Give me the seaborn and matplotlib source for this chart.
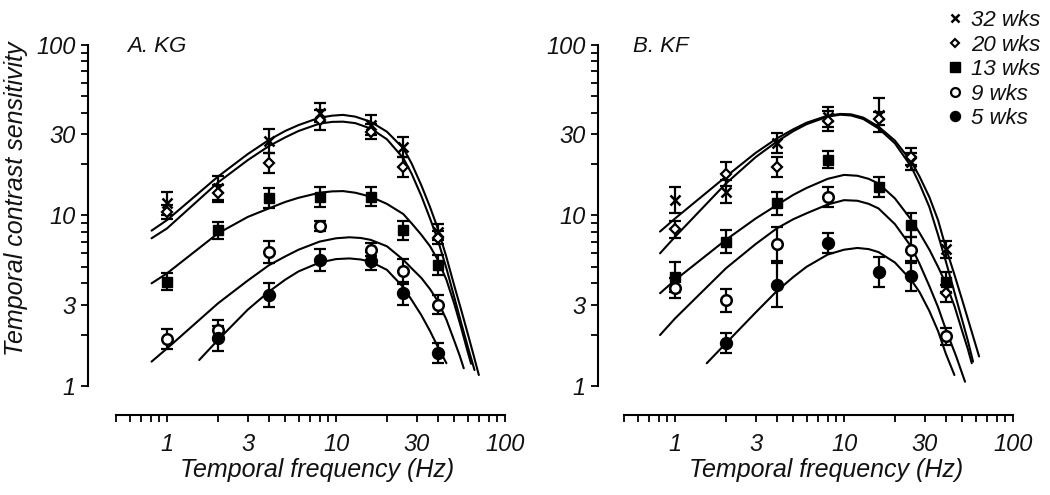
import numpy as np
import pandas as pd
import matplotlib
matplotlib.use("Agg")
import matplotlib.pyplot as plt
from matplotlib.lines import Line2D
from matplotlib.ticker import FixedLocator, FixedFormatter, NullLocator
import seaborn as sns

# ---------------- data ----------------
freqs = [1, 2, 4, 8, 16, 25, 40]
ages = ["32 wks", "20 wks", "13 wks", "9 wks", "5 wks"]
nan = np.nan

# Panel A (KG) mean sensitivities
kg_32 = [11.8, 14.5, 27.4, 40.0, 34.0, 25.3, 8.0]
kg_20 = [10.5, 13.5, 20.2, 36.5, 31.0, 19.3, 7.4]
kg_13 = [4.1, 8.2, 12.6, 12.9, 12.9, 8.2, 5.1]
kg_9 = [1.88, 2.13, 6.1, 8.7, 6.3, 4.7, 3.0]
kg_5 = [nan, 1.9, 3.42, 5.5, 5.4, 3.5, 1.56]
# error half-widths (log10 units)
kg_e32 = [0.068, 0.068, 0.070, 0.055, 0.059, 0.059, 0.049]
kg_e20 = [0.039, 0.049, 0.059, 0.059, 0.043, 0.059, 0.039]
kg_e13 = [0.049, 0.049, 0.059, 0.059, 0.055, 0.055, 0.059]
kg_e9 = [0.059, 0.059, 0.063, 0.029, 0.039, 0.072, 0.055]
kg_e5 = [0.0, 0.072, 0.072, 0.063, 0.053, 0.068, 0.059]

# Panel B (KF)
kf_32 = [12.3, 13.8, 26.6, 38.0, 38.9, 20.7, 6.33]
kf_20 = [8.3, 17.5, 19.3, 36.0, 37.0, 22.1, 3.5]
kf_13 = [4.38, 7.03, 11.8, 21.2, 14.7, 8.79, 4.09]
kf_9 = [3.74, 3.19, 6.8, 12.9, nan, 6.27, 1.96]
kf_5 = [nan, 1.78, 3.91, 6.93, 4.68, 4.42, nan]
kf_e32 = [0.078, 0.068, 0.059, 0.059, 0.098, 0.049, 0.049]
kf_e20 = [0.049, 0.068, 0.059, 0.059, 0.039, 0.049, 0.049]
kf_e13 = [0.088, 0.068, 0.068, 0.049, 0.059, 0.068, 0.059]
kf_e9 = [0.059, 0.068, 0.100, 0.059, 0.0, 0.078, 0.049]
kf_e5 = [0.0, 0.059, 0.127, 0.059, 0.088, 0.088, 0.0]

# Fitted curves
kg_c32_f = [0.81, 1, 2, 3, 4, 5, 6, 8, 9.5, 11, 13, 16, 20, 25, 28, 32, 36, 40, 45, 50, 55, 60, 65, 70]
kg_c32_v = [8.15, 9.4, 16.9, 22.9, 27.7, 31.3, 33.9, 37.5, 38.5, 38.9, 38.0, 35.5, 31.0, 24.8, 20.2,
            15.0, 11.2, 8.4, 5.7, 3.9, 2.8, 2.05, 1.53, 1.16]
kg_c20_f = [0.81, 1, 2, 3, 4, 5, 6, 8, 9.5, 11, 13, 16, 20, 25, 28, 32, 36, 40, 45, 50, 55, 60, 66]
kg_c20_v = [7.35, 8.4, 15.6, 21.1, 25.5, 28.7, 31.3, 34.6, 35.4, 35.5, 34.8, 32.4, 28.0, 21.7, 17.6,
            13.0, 9.6, 7.2, 4.9, 3.34, 2.35, 1.72, 1.24]
kg_c13_f = [0.81, 1, 2, 3, 4, 5, 6, 8, 9.5, 11, 13, 16, 20, 25, 28, 32, 36, 40, 45, 50, 55, 60, 63]
kg_c13_v = [4.0, 4.58, 7.85, 9.8, 11.0, 12.0, 12.7, 13.6, 13.85, 13.9, 13.6, 12.9, 11.7, 10.2, 9.0,
            7.7, 6.6, 5.5, 4.2, 3.05, 2.2, 1.6, 1.35]
kg_c9_f = [0.81, 1, 2, 3, 4, 5, 6, 8, 10, 12, 14, 16, 20, 25, 28, 32, 36, 40, 45, 50, 54, 57]
kg_c9_v = [1.39, 1.66, 3.05, 4.15, 5.1, 5.75, 6.3, 7.03, 7.35, 7.45, 7.38, 7.2, 6.6, 5.5, 4.9,
           4.3, 3.7, 3.15, 2.45, 1.85, 1.5, 1.27]
kg_c5_f = [1.55, 2, 3, 4, 5, 6, 8, 10, 12, 14, 16, 20, 25, 28, 32, 36, 40, 45]
kg_c5_v = [1.42, 1.86, 2.8, 3.57, 4.2, 4.7, 5.3, 5.55, 5.6, 5.52, 5.36, 4.8, 3.8, 3.2, 2.6, 2.1, 1.70, 1.36]

kf_c32_f = [0.815, 1, 2, 3, 4, 5, 6, 8, 9.5, 11, 13, 16, 20, 25, 28, 32, 36, 40, 45, 50, 56, 63]
kf_c32_v = [8.05, 9.6, 16.9, 23.3, 28.3, 32.0, 35.0, 38.5, 39.4, 39.2, 37.5, 33.2, 27.5, 20.7, 16.9,
            12.8, 9.4, 6.5, 4.5, 3.2, 2.2, 1.49]
kf_c20_f = [0.815, 1, 2, 3, 4, 5, 6, 8, 9.5, 11, 13, 16, 20, 25, 28, 32, 36, 40, 45, 50, 54, 58]
kf_c20_v = [6.0, 7.5, 15.4, 22.0, 27.1, 31.2, 34.3, 38.0, 39.0, 38.6, 36.8, 32.4, 26.5, 19.3, 15.3,
            11.2, 7.7, 5.4, 3.55, 2.44, 1.85, 1.39]
kf_c13_f = [0.815, 1, 2, 3, 4, 5, 6, 8, 10, 12, 14, 16, 20, 25, 28, 32, 36, 40, 45, 50, 54, 57]
kf_c13_v = [3.5, 4.18, 7.2, 9.6, 11.5, 13.2, 14.5, 16.4, 17.3, 17.1, 16.4, 15.4, 12.6, 9.43, 7.9,
            6.3, 5.0, 4.0, 2.95, 2.1, 1.65, 1.36]
kf_c9_f = [0.815, 1, 2, 3, 4, 5, 6, 8, 10, 12, 14, 16, 20, 25, 28, 32, 36, 40, 46, 52]
kf_c9_v = [1.99, 2.49, 4.9, 6.8, 8.4, 9.5, 10.3, 11.6, 12.3, 12.2, 11.7, 11.0, 8.9, 6.55, 5.2,
           3.85, 2.9, 2.15, 1.5, 1.06]
kf_c5_f = [1.54, 2, 3, 4, 5, 6, 8, 10, 12, 14, 16, 20, 25, 28, 32, 36, 40, 45]
kf_c5_v = [1.36, 1.78, 2.7, 3.6, 4.35, 5.0, 5.9, 6.3, 6.45, 6.35, 6.1, 5.3, 4.18, 3.55, 2.75, 2.1, 1.55, 1.16]

x_ticks = [0.5, 0.6, 0.7, 0.8, 0.9, 1, 2, 3, 4, 5, 6, 7, 8, 9, 10,
           20, 30, 40, 50, 60, 70, 80, 90, 100]
x_labeled = {1: "1", 3: "3", 10: "10", 30: "30", 100: "100"}
y_ticks = [1, 2, 3, 4, 5, 6, 7, 8, 9, 10, 20, 30, 40, 50, 60, 70, 80, 90, 100]
y_labeled = {1: "1", 3: "3", 10: "10", 30: "30", 100: "100"}

# ---------------- style ----------------
sns.set_theme(style="ticks")
plt.rcParams["font.family"] = ["Liberation Sans", "DejaVu Sans"]
plt.rcParams["font.style"] = "italic"

W, H = 1050, 495
fig = plt.figure(figsize=(W / 100, H / 100), dpi=100)
fig.patch.set_facecolor("white")

styles = {
    "32 wks": dict(marker="x", ms=7.2, mew=1.8, mfc="black", mec="black"),
    "20 wks": dict(marker="D", ms=5.0, mew=1.6, mfc="white", mec="black"),
    "13 wks": dict(marker="s", ms=7.6, mew=1.0, mfc="black", mec="black"),
    "9 wks": dict(marker="o", ms=7.6, mew=1.8, mfc="white", mec="black"),
    "5 wks": dict(marker="o", ms=8.6, mew=1.0, mfc="black", mec="black"),
}


def make_panel(rect, xlim, means, errs, curves, title, title_x, ylabel):
    ax = fig.add_axes(rect)
    ax.set_facecolor("white")
    ax.set_xscale("log")
    ax.set_yscale("log")
    for cf, cv in curves:
        df = pd.DataFrame({"f": cf, "s": cv})
        sns.lineplot(data=df, x="f", y="s", ax=ax, color="black", lw=1.5,
                     estimator=None, sort=False, legend=False, zorder=2)
    for age, m, e in zip(ages, means, errs):
        m = np.asarray(m, float)
        e = np.asarray(e, float)
        lo = m - m / 10 ** e
        hi = m * 10 ** e - m
        ok = ~np.isnan(m) & (e > 0)
        f = np.asarray(freqs, float)
        ax.errorbar(f[ok], m[ok], yerr=[lo[ok], hi[ok]], fmt="none",
                    ecolor="black", elinewidth=1.6, capsize=4.3,
                    capthick=1.6, zorder=3)
        ax.plot(f, m, ls="none", zorder=4, **styles[age])
    ax.set_xlim(*xlim)
    ax.set_ylim(0.676, 108.4)
    for s in ["top", "right"]:
        ax.spines[s].set_visible(False)
    ax.spines["left"].set_bounds(1, 100)
    ax.spines["bottom"].set_bounds(0.5, 100)
    for s in ["left", "bottom"]:
        ax.spines[s].set_linewidth(1.5)
        ax.spines[s].set_color("black")
    ax.xaxis.set_major_locator(FixedLocator(x_ticks))
    ax.xaxis.set_major_formatter(FixedFormatter([x_labeled.get(t, "") for t in x_ticks]))
    ax.xaxis.set_minor_locator(NullLocator())
    ax.yaxis.set_major_locator(FixedLocator(y_ticks))
    ax.yaxis.set_major_formatter(FixedFormatter([y_labeled.get(t, "") for t in y_ticks]))
    ax.yaxis.set_minor_locator(NullLocator())
    ax.tick_params(axis="both", direction="out", length=5, width=1.3,
                   color="black", labelsize=17, labelcolor="#111111")
    ax.tick_params(axis="x", pad=8)
    ax.tick_params(axis="y", pad=4)
    for lab in ax.get_xticklabels() + ax.get_yticklabels():
        lab.set_fontstyle("italic")
    ax.set_xlabel("Temporal frequency (Hz)", fontsize=18, style="italic", color="#111111")
    ax.xaxis.set_label_coords(0.545, -0.115)
    if ylabel:
        ax.set_ylabel("Temporal contrast sensitivity", fontsize=18, style="italic", color="#111111")
        ax.yaxis.set_label_coords(-0.143, 0.574)
    else:
        ax.set_ylabel("")
    fig.text(title_x / W, 1 - 52 / H, title, fontsize=16, style="italic",
             ha="left", va="baseline", color="#111111")
    ax.grid(False)
    return ax


axh = (415 - 39) / H
ax1 = make_panel([88 / W, 80 / H, 420.6 / W, axh], (0.3407, 105),
                 [kg_32, kg_20, kg_13, kg_9, kg_5],
                 [kg_e32, kg_e20, kg_e13, kg_e9, kg_e5],
                 [(kg_c32_f, kg_c32_v), (kg_c20_f, kg_c20_v), (kg_c13_f, kg_c13_v),
                  (kg_c9_f, kg_c9_v), (kg_c5_f, kg_c5_v)],
                 "A. KG", 127, True)
ax2 = make_panel([598 / W, 80 / H, 418.6 / W, axh], (0.350, 105),
                 [kf_32, kf_20, kf_13, kf_9, kf_5],
                 [kf_e32, kf_e20, kf_e13, kf_e9, kf_e5],
                 [(kf_c32_f, kf_c32_v), (kf_c20_f, kf_c20_v), (kf_c13_f, kf_c13_v),
                  (kf_c9_f, kf_c9_v), (kf_c5_f, kf_c5_v)],
                 "B. KF", 633, False)

leg_styles = {
    "32 wks": dict(marker="x", ms=6.0, mew=1.8, mfc="black", mec="black"),
    "20 wks": dict(marker="D", ms=4.2, mew=1.5, mfc="white", mec="black"),
    "13 wks": dict(marker="s", ms=6.6, mew=1.0, mfc="black", mec="black"),
    "9 wks": dict(marker="o", ms=6.4, mew=1.6, mfc="white", mec="black"),
    "5 wks": dict(marker="o", ms=7.2, mew=1.0, mfc="black", mec="black"),
}
handles = [Line2D([], [], ls="none", **leg_styles[a]) for a in ages]
leg = fig.legend(handles, ages, loc="upper left", bbox_to_anchor=(944 / W, 1 - 10 / H),
                 bbox_transform=fig.transFigure, frameon=False, borderpad=0,
                 borderaxespad=0, handlelength=1.0, handletextpad=0.22,
                 labelspacing=0.16, prop={"size": 16, "style": "italic"})
for t in leg.get_texts():
    t.set_color("#111111")

fig.savefig("out.png", dpi=100, facecolor="white")
